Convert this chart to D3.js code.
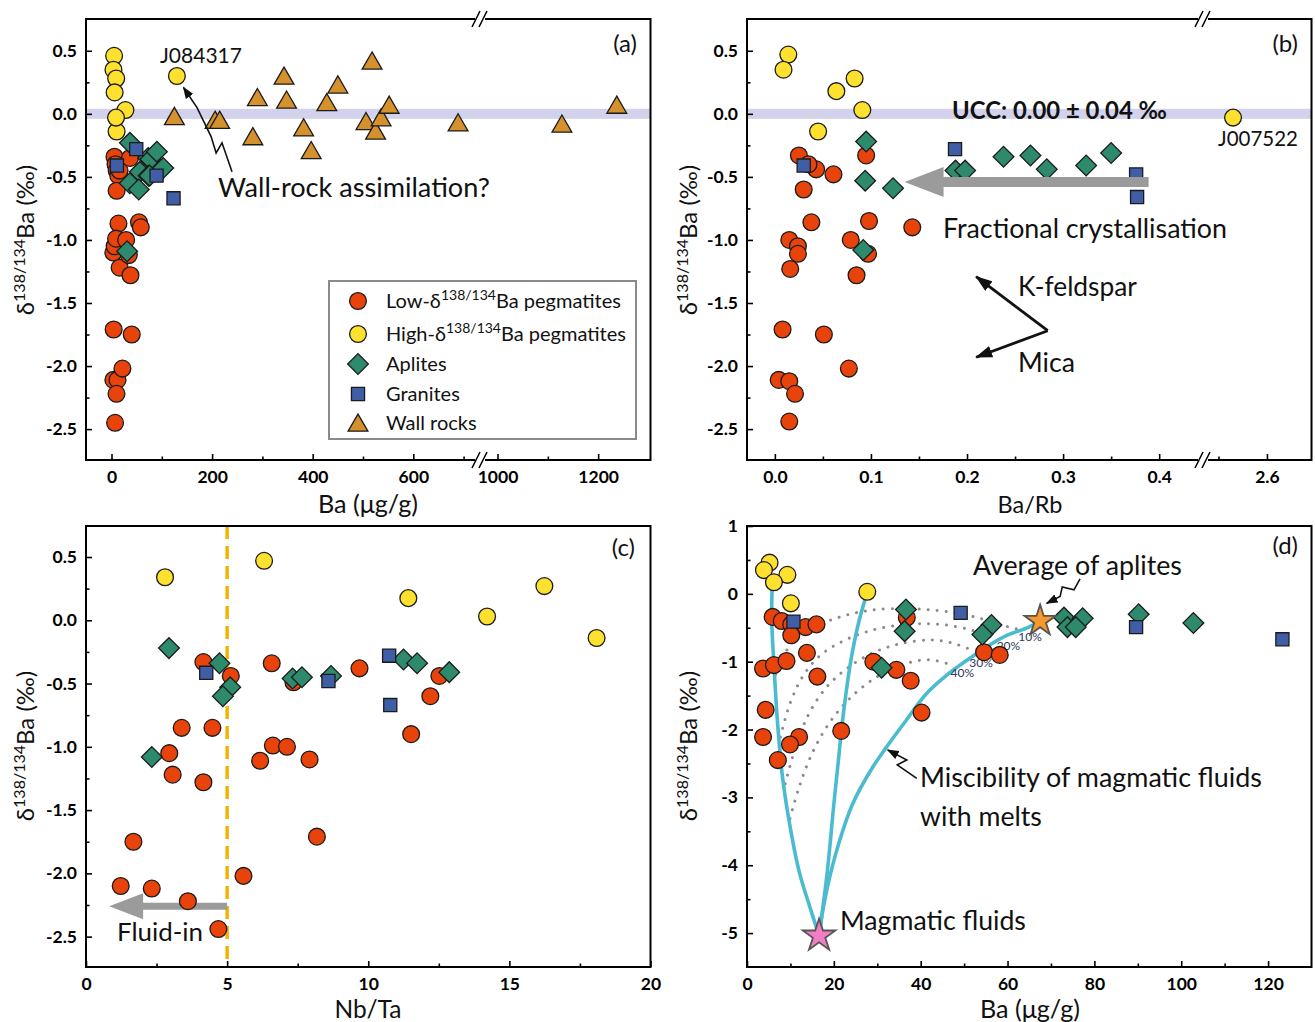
<!DOCTYPE html>
<html><head><meta charset="utf-8">
<script src="https://cdn.jsdelivr.net/npm/d3@7"></script>
<style>body{margin:0;background:#fff;} svg text{font-family:Lato,'Open Sans',sans-serif;}</style>
</head><body>
<script>
// ================= DATA =================
// Panels (a) and (d): Ba (µg/g) vs δ138/134Ba (‰)
const lowPegBa  = [5.9, 8.0, 10.2, 13.5, 16.0, 10.2, 13.8, 3.7, 6.2, 9.1, 16.2, 4.3, 3.7, 12.0, 9.9, 7.1, 21.7, 36.8, 29.1, 34.4, 37.7, 40.2, 54.6, 58.2];
const lowPegD   = [-0.34, -0.40, -0.45, -0.49, -0.45, -0.61, -0.87, -1.10, -1.05, -0.99, -1.22, -1.71, -2.11, -2.11, -2.22, -2.45, -2.02, -0.35, -1.00, -1.12, -1.28, -1.75, -0.86, -0.90];
const highPegBa = [5.2, 3.9, 9.3, 6.2, 10.1, 27.7];
const highPegD  = [0.46, 0.35, 0.28, 0.17, -0.14, 0.03];
const highPegExtraBa = [130, 9];      // J084317, J007522 (panel a only)
const highPegExtraD  = [0.30, -0.03];
const apliteBa  = [36.6, 36.3, 31.0, 56.3, 54.2, 73.0, 77.3, 73.8, 75.7, 90.2, 102.8];
const apliteD   = [-0.23, -0.55, -1.09, -0.46, -0.60, -0.35, -0.36, -0.49, -0.49, -0.30, -0.43];
const graniteBa = [10.7, 49.2, 89.6, 123.3];
const graniteD  = [-0.41, -0.28, -0.49, -0.67];
const wallBa    = [125, 206, 215, 281, 290, 343, 348, 382, 397, 428, 450, 506, 518, 525, 536, 552, 689, 1128, 1237];
const wallD     = [-0.02, -0.05, -0.05, -0.18, 0.13, 0.30, 0.11, -0.11, -0.29, 0.09, 0.23, -0.06, 0.42, -0.135, -0.03, 0.07, -0.07, -0.08, 0.07];

// Panel (b): Ba/Rb vs δ138/134Ba
const lowPegBaRb  = [0.025, 0.043, 0.061, 0.030, 0.095, 0.038, 0.098, 0.143, 0.015, 0.024, 0.024, 0.079, 0.097, 0.016, 0.085, 0.008, 0.051, 0.077, 0.004, 0.015, 0.021, 0.015, 0.035];
const lowPegDb    = [-0.33, -0.44, -0.48, -0.60, -0.33, -0.86, -0.85, -0.90, -1.00, -1.05, -1.11, -1.00, -1.11, -1.23, -1.28, -1.71, -1.75, -2.02, -2.11, -2.12, -2.22, -2.44, -0.40];
const highPegBaRb = [0.014, 0.009, 0.083, 0.064, 0.091, 0.045, 2.565];
const highPegDb   = [0.47, 0.35, 0.28, 0.18, 0.03, -0.14, -0.03];
const apliteBaRb  = [0.095, 0.094, 0.123, 0.092, 0.188, 0.198, 0.238, 0.266, 0.283, 0.324, 0.350];
const apliteDb    = [-0.22, -0.53, -0.59, -1.08, -0.45, -0.45, -0.34, -0.33, -0.44, -0.41, -0.31];
const graniteBaRb = [0.030, 0.1875, 0.376, 0.377];
const graniteDb   = [-0.41, -0.28, -0.48, -0.66];

// Panel (c): Nb/Ta vs δ138/134Ba
const lowPegNbTa  = [4.16, 5.13, 6.58, 7.35, 9.69, 3.39, 4.48, 2.95, 3.07, 4.16, 6.62, 7.12, 6.17, 7.92, 1.68, 8.18, 1.23, 2.33, 5.58, 3.61, 4.69, 12.52, 12.2, 11.52];
const lowPegDc    = [-0.33, -0.44, -0.34, -0.49, -0.38, -0.85, -0.85, -1.05, -1.22, -1.28, -0.99, -1.00, -1.11, -1.10, -1.75, -1.71, -2.10, -2.12, -2.02, -2.22, -2.44, -0.44, -0.60, -0.90];
const highPegNbTa = [2.80, 6.31, 11.42, 14.21, 16.24, 18.09];
const highPegDc   = [0.34, 0.47, 0.175, 0.03, 0.27, -0.14];
const apliteNbTa  = [2.94, 4.73, 5.11, 4.85, 2.33, 7.32, 7.65, 8.68, 11.25, 11.73, 12.87];
const apliteDc    = [-0.22, -0.34, -0.53, -0.60, -1.08, -0.46, -0.45, -0.44, -0.31, -0.34, -0.41];
const graniteNbTa = [4.26, 8.59, 10.74, 10.78];
const graniteDc   = [-0.415, -0.48, -0.28, -0.67];

// Panel (d): mixing model curves (Ba, δ) and end-members
const mixCurve1 = [[16.6,-5.04],[14.3,-4.58],[12.0,-4.09],[9.7,-3.35],[8.1,-2.66],[7.0,-1.87],[6.2,-1.04],[5.7,-0.40],[5.8,0.12]];
const mixCurve2 = [[16.6,-5.04],[18.5,-4.09],[20.0,-3.10],[21.2,-2.36],[22.0,-1.87],[23.9,-0.99],[25.8,-0.40],[27.7,0.02]];
const mixCurve3 = [[16.6,-5.04],[17.7,-4.58],[20.4,-3.84],[24.3,-3.10],[28.9,-2.56],[32.0,-2.27],[36.6,-1.87],[41.2,-1.48],[45.8,-1.21],[50.4,-0.99],[55.0,-0.79],[59.6,-0.62],[64.9,-0.49],[67.5,-0.40]];
const iso10 = [[6.6,-1.19],[8.5,-0.90],[11,-0.68],[15,-0.50],[20,-0.37],[25,-0.28],[30,-0.23],[36,-0.22],[41,-0.23],[47,-0.27],[53,-0.35],[58,-0.45],[62.4,-0.52]];
const iso20 = [[7.7,-2.11],[10,-1.60],[13,-1.20],[17,-0.90],[22,-0.70],[28,-0.55],[35,-0.46],[42,-0.44],[48,-0.48],[53,-0.56],[57.3,-0.67]];
const iso30 = [[8.8,-2.80],[11,-2.30],[14,-1.80],[18,-1.40],[23,-1.10],[29,-0.87],[35,-0.74],[42,-0.68],[47,-0.72],[52.2,-0.84]];
const iso40 = [[9.9,-3.31],[12,-2.85],[15,-2.35],[19,-1.90],[24,-1.52],[30,-1.22],[36,-1.04],[42,-0.97],[47.1,-1.05]];
const isoLabels = ["10%", "20%", "30%", "40%"];
const isoLabelPos = [[65.2,-0.63],[60.2,-0.77],[53.9,-1.02],[49.6,-1.17]];
const avgAplite = [67.5, -0.40];
const magmaticFluid = [16.6, -5.04];

// Tick values
const yTicksMain = [0.5, 0, -0.5, -1, -1.5, -2, -2.5];
const yTicksMainMinor = [0.25, -0.25, -0.75, -1.25, -1.75, -2.25];
const xTicksA_left = [0, 200, 400, 600], xTicksA_leftMinor = [100, 300, 500, 700];
const xTicksA_right = [1000, 1200], xTicksA_rightMinor = [1100];
const xTicksB_left = [0, 0.1, 0.2, 0.3, 0.4], xTicksB_leftMinor = [0.05, 0.15, 0.25, 0.35];
const xTicksB_right = [2.6], xTicksB_rightMinor = [2.55];
const xTicksC = [0, 5, 10, 15, 20], xTicksCMinor = [2.5, 7.5, 12.5, 17.5];
const xTicksD = [0, 20, 40, 60, 80, 100, 120], xTicksDMinor = [10, 30, 50, 70, 90, 110];
const yTicksD = [1, 0, -1, -2, -3, -4, -5], yTicksDMinor = [0.5, -0.5, -1.5, -2.5, -3.5, -4.5];

// ================= SETUP =================
const svg = d3.select("body").append("svg").attr("width", 1315).attr("height", 1022);
const COL = {low: "#e8430b", high: "#fde12e", apl: "#2e8a6c", gran: "#3f5ea6", wall: "#d4912d"};
const SYM = {
  low: d3.symbol(d3.symbolCircle, 222)(),
  high: d3.symbol(d3.symbolCircle, 222)(),
  apl: d3.symbol(d3.symbolSquare, 215)(),
  gran: d3.symbol(d3.symbolSquare, 172)(),
  wall: d3.symbol(d3.symbolTriangle, 170)()
};

const F = {A:{x0:86,x1:650.5,y0:19,y1:460}, B:{x0:747,x1:1311.5,y0:19,y1:460},
           C:{x0:86,x1:650.5,y0:526,y1:967}, D:{x0:747,x1:1311.5,y0:526,y1:967}};

const xAL = d3.scaleLinear().domain([-50.7, 732.6]).range([86, 480]);
const xAR = d3.scaleLinear().domain([965.2, 1304]).range([480, 650.5]);
const xA = v => v < 850 ? xAL(v) : xAR(v);
const yA = d3.scaleLinear().domain([-2.745, 0.752]).range([460, 19]);
const xBL = d3.scaleLinear().domain([-0.029, 0.4456]).range([747, 1203]);
const xBR = d3.scaleLinear().domain([2.534, 2.646]).range([1203, 1311.5]);
const xB = v => v < 1.5 ? xBL(v) : xBR(v);
const yB = yA;
const xC = d3.scaleLinear().domain([0, 20]).range([86, 650.5]);
const yC = d3.scaleLinear().domain([-2.74, 0.745]).range([967, 526]);
const xD = d3.scaleLinear().domain([0, 130]).range([747, 1311.5]);
const yD = d3.scaleLinear().domain([-5.5, 1]).range([967, 526]);

const defs = svg.append("defs");
function marker(id, L, W, color){
  defs.append("marker").attr("id", id).attr("viewBox", `0 0 ${L} ${W}`)
    .attr("refX", L - 1).attr("refY", W/2).attr("markerWidth", L).attr("markerHeight", W)
    .attr("markerUnits", "userSpaceOnUse").attr("orient", "auto")
    .append("path").attr("d", `M0,0 L${L},${W/2} L0,${W} Z`).attr("fill", color);
}
marker("ahBig", 17, 12, "#111");
marker("ahSmall", 12, 9, "#111");

function points(xs, ys, xf, yf, kind){
  svg.append("g").selectAll("path").data(d3.zip(xs, ys)).join("path")
    .attr("d", SYM[kind])
    .attr("transform", d => `translate(${xf(d[0])},${yf(d[1]) + (kind === "wall" ? 2.5 : 0)})${kind === "apl" ? " rotate(45)" : ""}`)
    .attr("fill", COL[kind]).attr("stroke", "#1b1b1b").attr("stroke-width", 1.3);
}

function styleAxis(g){
  g.select(".domain").remove();
  g.selectAll("line").attr("stroke", "#000").attr("stroke-width", 1.6);
  g.selectAll("text").attr("font-family", "Lato, 'Open Sans', sans-serif")
    .attr("font-weight", "bold").attr("font-size", 17.5).attr("fill", "#000");
}
function xAxis(scale, y, majors, minors, fmt){
  svg.append("g").attr("transform", `translate(0,${y})`)
    .call(d3.axisBottom(scale).tickValues(majors).tickSize(-6).tickPadding(11).tickFormat(fmt)).call(styleAxis);
  svg.append("g").attr("transform", `translate(0,${y})`)
    .call(d3.axisBottom(scale).tickValues(minors).tickSize(-3.5).tickFormat("")).call(styleAxis);
}
function yAxis(scale, x, majors, minors, fmt){
  svg.append("g").attr("transform", `translate(${x},0)`)
    .call(d3.axisLeft(scale).tickValues(majors).tickSize(-6).tickPadding(9).tickFormat(fmt)).call(styleAxis);
  svg.append("g").attr("transform", `translate(${x},0)`)
    .call(d3.axisLeft(scale).tickValues(minors).tickSize(-3.5).tickFormat("")).call(styleAxis);
}
function frame(f){
  svg.append("rect").attr("x", f.x0).attr("y", f.y0).attr("width", f.x1 - f.x0).attr("height", f.y1 - f.y0)
    .attr("fill", "none").attr("stroke", "#000").attr("stroke-width", 2);
}
function breakMark(x, y){
  svg.append("rect").attr("x", x - 5).attr("y", y - 2).attr("width", 10).attr("height", 4).attr("fill", "#fff");
  [-4, 3].forEach(o => svg.append("line").attr("x1", x + o - 4).attr("y1", y + 8).attr("x2", x + o + 4).attr("y2", y - 8)
    .attr("stroke", "#000").attr("stroke-width", 1.6));
}
function txt(s, x, y, size, opts = {}){
  const t = svg.append("text").attr("x", x).attr("y", y).attr("font-size", size).attr("fill", "#111").text(s);
  if (opts.anchor) t.attr("text-anchor", opts.anchor);
  if (opts.bold) t.attr("font-weight", "bold");
  if (opts.fill) t.attr("fill", opts.fill);
  if (opts.w){ const cur = t.node().getComputedTextLength(); t.attr("font-size", size * opts.w / cur); }
  return t;
}
function yTitle(x, yc){
  const t = svg.append("text").attr("transform", `translate(${x},${yc}) rotate(-90)`)
    .attr("text-anchor", "middle").attr("font-size", 24).attr("fill", "#111");
  t.append("tspan").text("δ");
  t.append("tspan").attr("dy", -9).attr("font-size", 16).text("138/134");
  t.append("tspan").attr("dy", 9).text("Ba (‰)");
}
function band(xf0, xf1, yf){
  svg.append("rect").attr("x", xf0).attr("width", xf1 - xf0)
    .attr("y", yf(0.04)).attr("height", yf(-0.04) - yf(0.04)).attr("fill", "#d2d2ec");
}
function grayArrow(xTail, xTip, yv, xf, yf, headLen, headHalf, shaftHalf){
  const xt = xf(xTail), xp = xf(xTip), yy = yf(yv);
  const p = d3.path();
  p.moveTo(xp, yy); p.lineTo(xp + headLen, yy - headHalf); p.lineTo(xp + headLen, yy - shaftHalf);
  p.lineTo(xt, yy - shaftHalf); p.lineTo(xt, yy + shaftHalf); p.lineTo(xp + headLen, yy + shaftHalf);
  p.lineTo(xp + headLen, yy + headHalf); p.closePath();
  svg.append("path").attr("d", p.toString()).attr("fill", "#9b9b9b");
}
function squiggle(pts, xf, yf){
  svg.append("path").attr("d", d3.line().x(d => xf(d[0])).y(d => yf(d[1])).curve(d3.curveLinear)(pts))
    .attr("fill", "none").attr("stroke", "#111").attr("stroke-width", 1.6).attr("marker-end", "url(#ahSmall)");
}
const f1 = d => d.toFixed(1);

// ================= PANEL (a) =================
band(F.A.x0, F.A.x1, yA);
points(wallBa, wallD, xA, yA, "wall");
points(lowPegBa, lowPegD, xA, yA, "low");
points(highPegBa.concat(highPegExtraBa), highPegD.concat(highPegExtraD), xA, yA, "high");
points(apliteBa, apliteD, xA, yA, "apl");
points(graniteBa, graniteD, xA, yA, "gran");
xAxis(xAL, F.A.y1, xTicksA_left, xTicksA_leftMinor, d => String(d));
xAxis(xAR, F.A.y1, xTicksA_right, xTicksA_rightMinor, d => String(d));
yAxis(yA, F.A.x0, yTicksMain, yTicksMainMinor, f1);
frame(F.A);
breakMark(480, F.A.y0); breakMark(480, F.A.y1);
txt("(a)", 637, 52, 24, {anchor: "end"});
txt("J084317", 160, 63, 20, {w: 82});
squiggle([[239.6,-0.46],[219.7,-0.23],[208,-0.31],[198,-0.18],[170,0.05],[143,0.21]], xA, yA);
txt("Wall-rock assimilation?", 218, 197, 24, {w: 272});
// legend
svg.append("rect").attr("x", 329).attr("y", 281).attr("width", 307).attr("height", 158)
  .attr("fill", "#fff").attr("stroke", "#8a8a8a").attr("stroke-width", 2);
const legendKinds = ["low", "high", "apl", "gran", "wall"];
const legendNames = [["Low-δ", "138/134", "Ba pegmatites"], ["High-δ", "138/134", "Ba pegmatites"], ["Aplites"], ["Granites"], ["Wall rocks"]];
const legendY = [301, 334, 364, 394, 423];
legendKinds.forEach((k, i) => {
  svg.append("path").attr("d", SYM[k])
    .attr("transform", `translate(358,${legendY[i] + (k === "wall" ? 2.5 : 0)})${k === "apl" ? " rotate(45)" : ""}`)
    .attr("fill", COL[k]).attr("stroke", "#1b1b1b").attr("stroke-width", 1.3);
  const t = svg.append("text").attr("x", 386).attr("y", legendY[i] + 7).attr("font-size", 20).attr("fill", "#111");
  const parts = legendNames[i];
  t.append("tspan").text(parts[0]);
  if (parts.length > 1){
    t.append("tspan").attr("dy", -8).attr("font-size", 14).text(parts[1]);
    t.append("tspan").attr("dy", 8).text(parts[2]);
  }
});

// ================= PANEL (b) =================
band(F.B.x0, F.B.x1, yB);
points(lowPegBaRb, lowPegDb, xB, yB, "low");
points(highPegBaRb, highPegDb, xB, yB, "high");
points(apliteBaRb, apliteDb, xB, yB, "apl");
points(graniteBaRb, graniteDb, xB, yB, "gran");
grayArrow(0.389, 0.135, -0.54, xB, yB, 39, 15, 5);
xAxis(xBL, F.B.y1, xTicksB_left, xTicksB_leftMinor, f1);
xAxis(xBR, F.B.y1, xTicksB_right, xTicksB_rightMinor, f1);
yAxis(yB, F.B.x0, yTicksMain, yTicksMainMinor, f1);
frame(F.B);
breakMark(1203, F.B.y0); breakMark(1203, F.B.y1);
txt("(b)", 1298, 52, 24, {anchor: "end"});
txt("UCC: 0.00 ± 0.04 ‰", 952, 119, 21, {bold: true, w: 215});
txt("J007522", 1218, 146, 20, {w: 80});
txt("Fractional crystallisation", 943, 238, 24, {w: 284});
txt("K-feldspar", 1018, 296, 24, {w: 119});
txt("Mica", 1018, 372, 24, {w: 57});
// K-feldspar / Mica arrows (data coordinates)
[[0.2095, -1.29], [0.2095, -1.93]].forEach(tip => {
  svg.append("line").attr("x1", xB(0.284)).attr("y1", yB(-1.72)).attr("x2", xB(tip[0])).attr("y2", yB(tip[1]))
    .attr("stroke", "#111").attr("stroke-width", 2.8).attr("marker-end", "url(#ahBig)");
});

// ================= PANEL (c) =================
svg.append("line").attr("x1", xC(5)).attr("x2", xC(5)).attr("y1", F.C.y0).attr("y2", F.C.y1)
  .attr("stroke", "#f2b400").attr("stroke-width", 3.5).attr("stroke-dasharray", "13 7");
grayArrow(5, 0.82, -2.26, xC, yC, 34, 13, 3.5);
points(lowPegNbTa, lowPegDc, xC, yC, "low");
points(highPegNbTa, highPegDc, xC, yC, "high");
points(apliteNbTa, apliteDc, xC, yC, "apl");
points(graniteNbTa, graniteDc, xC, yC, "gran");
xAxis(xC, F.C.y1, xTicksC, xTicksCMinor, d => String(d));
yAxis(yC, F.C.x0, yTicksMain, yTicksMainMinor, f1);
frame(F.C);
txt("(c)", 635, 556, 24, {anchor: "end"});
txt("Fluid-in", 117, 941, 24, {w: 86});

// ================= PANEL (d) =================
const lineD = d3.line().x(d => xD(d[0])).y(d => yD(d[1])).curve(d3.curveCatmullRom.alpha(0.5));
[iso10, iso20, iso30, iso40].forEach(c => {
  svg.append("path").attr("d", lineD(c)).attr("fill", "none").attr("stroke", "#8a8a8a")
    .attr("stroke-width", 3).attr("stroke-linecap", "round").attr("stroke-dasharray", "0.01 9");
});
[mixCurve1, mixCurve2, mixCurve3].forEach(c => {
  svg.append("path").attr("d", lineD(c)).attr("fill", "none").attr("stroke", "#4bbcd0").attr("stroke-width", 3.6);
});
isoLabels.forEach((s, i) => {
  txt(s, xD(isoLabelPos[i][0]), yD(isoLabelPos[i][1]) + 4, 12, {anchor: "middle", fill: "#2c3a5c"});
});
points(lowPegBa, lowPegD, xD, yD, "low");
points(highPegBa, highPegD, xD, yD, "high");
points(apliteBa, apliteD, xD, yD, "apl");
points(graniteBa, graniteD, xD, yD, "gran");
svg.append("path").attr("d", d3.symbol(d3.symbolStar, 300)()).attr("transform", `translate(${xD(avgAplite[0])},${yD(avgAplite[1])})`)
  .attr("fill", "#f7982c").attr("stroke", "#555").attr("stroke-width", 1.8);
svg.append("path").attr("d", d3.symbol(d3.symbolStar, 330)()).attr("transform", `translate(${xD(magmaticFluid[0])},${yD(magmaticFluid[1])})`)
  .attr("fill", "#f17ec4").attr("stroke", "#555").attr("stroke-width", 1.8);
xAxis(xD, F.D.y1, xTicksD, xTicksDMinor, d => String(d));
yAxis(yD, F.D.x0, yTicksD, yTicksDMinor, d => String(d));
frame(F.D);
txt("(d)", 1298, 554, 24, {anchor: "end"});
txt("Average of aplites", 973, 575, 24, {w: 209});
squiggle([[76.7,0.22],[75.3,0.06],[72.6,0.10],[72.1,-0.04],[69.0,-0.14]], xD, yD);
txt("Magmatic fluids", 840, 930, 24, {w: 186});
txt("Miscibility of magmatic fluids", 920, 787, 24, {w: 342});
txt("with melts", 920, 826, 24, {w: 122});
squiggle([[39.1,-2.72],[34.6,-2.52],[36.8,-2.45],[32.4,-2.30]], xD, yD);

// ================= AXIS TITLES =================
yTitle(34, 240); yTitle(697, 240); yTitle(34, 746); yTitle(697, 746);
txt("Ba (μg/g)", 368, 513, 23, {anchor: "middle", w: 100});
txt("Ba/Rb", 1030, 513, 23, {anchor: "middle", w: 65});
txt("Nb/Ta", 368, 1018, 23, {anchor: "middle", w: 67});
txt("Ba (μg/g)", 1030, 1018, 23, {anchor: "middle", w: 100});
</script>
</body></html>
